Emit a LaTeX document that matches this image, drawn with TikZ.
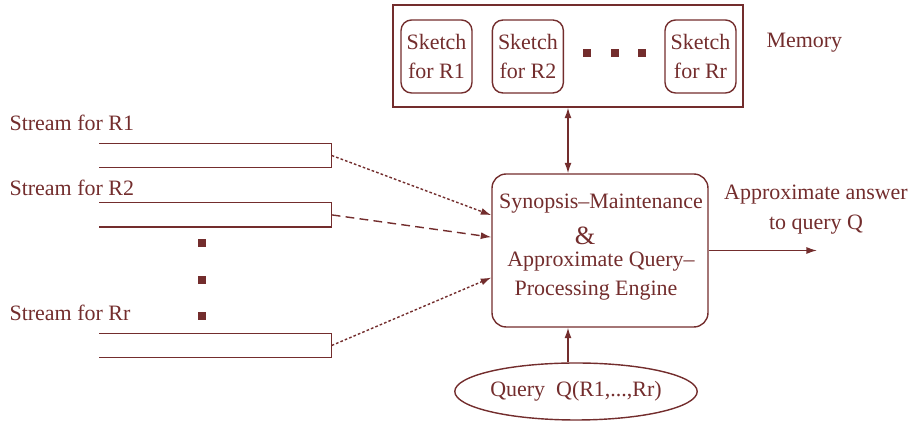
\documentclass[tikz,border=0pt]{standalone}
\usepackage{fontspec}
\setmainfont{Liberation Serif}
\usetikzlibrary{positioning,arrows.meta,shapes.geometric}
\definecolor{maroon}{RGB}{115,45,45}

\begin{document}
\begin{tikzpicture}[
    x=0.02cm, y=-0.02cm,
    font=\fontsize{12.5}{17}\selectfont,
    every node/.style={text=maroon},
    line width=0.8pt,
    box/.style={rectangle, draw=maroon, align=center, inner sep=0pt},
    sketchbox/.style={box, rounded corners=6pt, minimum width=1.42cm, minimum height=1.46cm},
    streambox/.style={rectangle, inner sep=0pt, minimum width=4.62cm, minimum height=0.46cm},
    dotbox/.style={rectangle, fill=maroon, inner sep=0pt, minimum size=0.17cm},
    arrow/.style={-{Latex[length=6pt,width=4pt]}, draw=maroon},
    labelnode/.style={anchor=west}
  ]
    \useasboundingbox (0,0) rectangle (914,421);

    % Memory with sketches
    \node[box, minimum width=7cm, minimum height=2.04cm] (mem) at (568,56) {};
    \node[sketchbox] (sk1) at (436.5,56.5) {Sketch\\for R1};
    \node[sketchbox, right=0.38cm of sk1] (sk2) {Sketch\\for R2};
    \node[sketchbox] (skr) at (700.5,56.5) {Sketch\\for Rr};
    \node[dotbox] (md1) at (587,53) {};
    \node[dotbox] (md2) at (615,53) {};
    \node[dotbox] (md3) at (642,53) {};
    \node[labelnode] (memlbl) at (760,43) {Memory};

    % Engine
    \node[box, rounded corners=8pt, minimum width=4.32cm, minimum height=3.06cm] (engine) at (600,250.5) {};
    \node (eng1) at (601,204) {Synopsis--Maintenance};
    \node[font=\fontsize{15}{15}\selectfont, inner sep=1pt] (eng2) at (585,236) {\&};
    \node (eng3) at (601,262) {Approximate Query--};
    \node (eng4) at (596,291) {Processing Engine};

    % Streams
    \node[streambox] (s1) at (215.5,155.5) {};
    \node[streambox, below=0.7cm of s1] (s2) {};
    \node[streambox] (sr) at (215.5,345.5) {};
    \foreach \s in {s1,s2,sr}
      \draw[maroon] (\s.north west) -- (\s.north east) -- (\s.south east) -- (\s.south west);
    \node[labelnode] (l1) at (3,123) {Stream for R1};
    \node[labelnode] (l2) at (3,188) {Stream for R2};
    \node[labelnode] (lr) at (3,313) {Stream for Rr};
    \node[dotbox, minimum size=0.15cm] (vd1) at (202,243) {};
    \node[dotbox, minimum size=0.15cm] (vd2) at (202,280) {};
    \node[dotbox, minimum size=0.15cm] (vd3) at (202,316) {};

    % Query
    \node[ellipse, draw=maroon, minimum width=4.04cm, minimum height=1.14cm, inner sep=0pt] (query) at (576,391.5) {Query\ \ Q(R1,...,Rr)};

    % Output
    \coordinate (ans) at (817,250.5);
    \node[align=center] (anslbl) at (816,210) {Approximate answer\\to query Q};

    % Connections
    \draw[arrow, dash pattern=on 1.5pt off 1.2pt] (s1.east) -- (engine.162);
    \draw[arrow, dash pattern=on 5pt off 3pt] (s2.east) -- (engine.173);
    \draw[arrow, dash pattern=on 1.5pt off 1.2pt] (sr.east) -- (engine.194);
    \draw[arrow, {Latex[length=6pt,width=4pt]}-{Latex[length=6pt,width=4pt]}] (mem.south) -- (mem.south |- engine.north);
    \draw[arrow] (query.north -| mem.south) -- (engine.south -| mem.south);
    \draw[arrow] (engine.east |- ans) -- (ans);
  \end{tikzpicture}
\end{document}
